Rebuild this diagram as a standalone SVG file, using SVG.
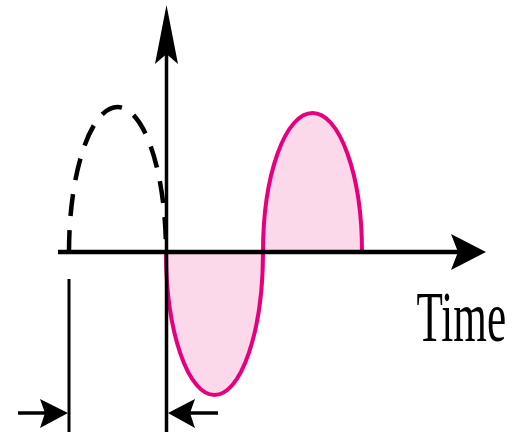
<svg xmlns="http://www.w3.org/2000/svg" width="521" height="432" viewBox="0 0 521 432">
  <style>
    .ax { stroke: #000; fill: none; }
    .head { fill: #000; stroke: none; }
    .wave { fill: #fbd8ea; stroke: #e6007e; stroke-width: 4; }
    .dash { fill: none; stroke: #000; stroke-width: 4.5; stroke-dasharray: 22 14; }
    .lbl { font-family: "Liberation Serif", "Times New Roman", serif; font-size: 72px; fill: #000; }
  </style>
  <rect width="521" height="432" fill="#fff"/>
  <g id="wave">
    <path class="wave" d="M166,252 A48.5,143 0 0 0 263,252 A49.5,139 0 0 1 362,252 Z"/>
  </g>
  <g id="lead-wave">
    <path class="dash" d="M69,252 A48.5,145 0 0 1 166,252"/>
  </g>
  <g id="connectors">
    <line class="ax" x1="58" y1="252" x2="466" y2="252" stroke-width="4.5"/>
    <path class="head" d="M486,252 L451,234 L458,252 L451,270 Z"/>
    <line class="ax" x1="166.5" y1="50" x2="166.5" y2="432" stroke-width="3.5"/>
    <path class="head" d="M166.5,5 L178,64 L166.5,54 L155,64 Z"/>
    <line class="ax" x1="69" y1="279" x2="69" y2="432" stroke-width="3"/>
    <line class="ax" x1="18" y1="413" x2="55" y2="413" stroke-width="3.5"/>
    <path class="head" d="M68,413 L40,399 L45,413 L40,428 Z"/>
    <line class="ax" x1="180" y1="413" x2="218" y2="413" stroke-width="3.5"/>
    <path class="head" d="M168,413 L195,399 L190,413 L195,428 Z"/>
  </g>
  <g id="label-time">
    <text class="lbl" transform="translate(416.5,341) scale(0.6,1)">Time</text>
  </g>
</svg>
